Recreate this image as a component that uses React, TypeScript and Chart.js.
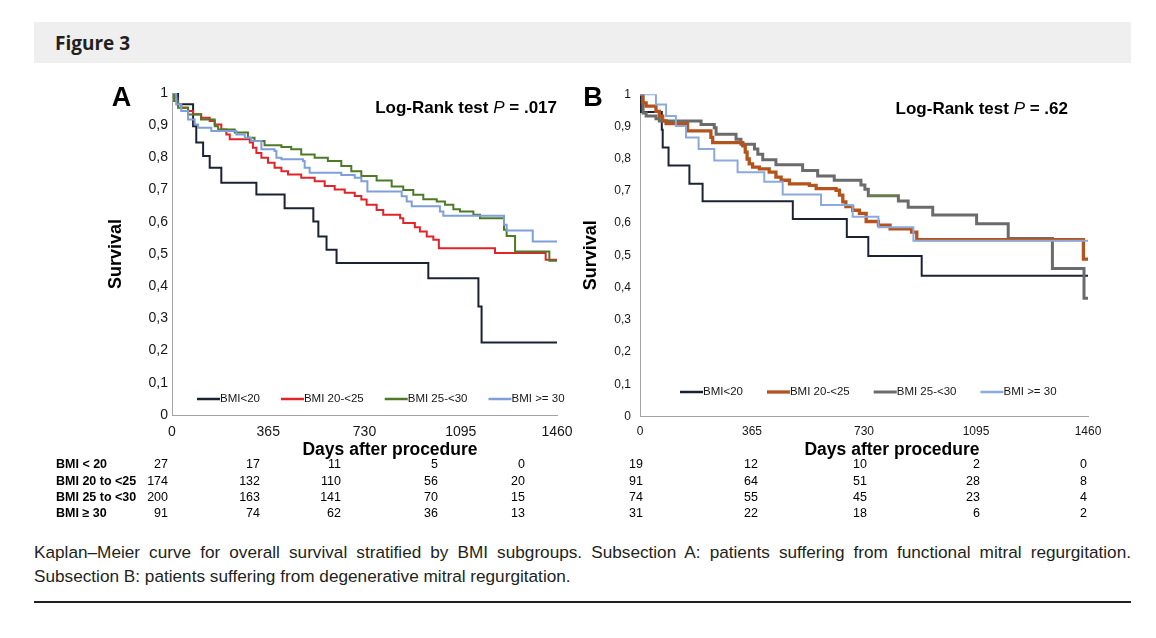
import React, { useEffect, useRef } from 'react';
import { Chart, registerables } from 'chart.js';

Chart.register(...registerables);

type Pt = [number, number];

// ---------------- Data ----------------
const DAY_TICKS = [0, 365, 730, 1095, 1460];
const SURVIVAL_TICKS = [0, 0.1, 0.2, 0.3, 0.4, 0.5, 0.6, 0.7, 0.8, 0.9, 1];
const SURVIVAL_TICK_LABELS = ['0', '0,1', '0,2', '0,3', '0,4', '0,5', '0,6', '0,7', '0,8', '0,9', '1'];
const SERIES_NAMES = ['BMI<20', 'BMI 20-<25', 'BMI 25-<30', 'BMI >= 30'];
const RISK_GROUPS = ['BMI < 20', 'BMI 20 to <25', 'BMI 25 to <30', 'BMI \u2265 30'];

// Panel A (functional MR) – Kaplan–Meier steps [day, survival]
const A_BMI_LT20: Pt[] = [
  [0, 1], [23, 0.965], [80, 0.897], [92, 0.846], [118, 0.804], [143, 0.768], [187, 0.721],
  [320, 0.685], [427, 0.642], [536, 0.601], [555, 0.554], [586, 0.513], [624, 0.472],
  [972, 0.425], [1162, 0.337], [1174, 0.225], [1460, 0.225],
];
const A_BMI_20_25: Pt[] = [
  [0, 1], [10, 0.985], [20, 0.965], [35, 0.954], [61, 0.944], [80, 0.934], [111, 0.923],
  [143, 0.913], [162, 0.902], [187, 0.887], [206, 0.871], [219, 0.856], [295, 0.846],
  [307, 0.83], [320, 0.814], [339, 0.799], [364, 0.783], [389, 0.768], [415, 0.757],
  [440, 0.747], [490, 0.737], [541, 0.726], [579, 0.711], [617, 0.7], [655, 0.69],
  [693, 0.68], [718, 0.669], [738, 0.653], [776, 0.637], [801, 0.622], [865, 0.611],
  [877, 0.596], [921, 0.583], [940, 0.57], [966, 0.554], [991, 0.544], [1012, 0.518],
  [1225, 0.503], [1417, 0.482], [1460, 0.482],
];
const A_BMI_25_30: Pt[] = [
  [0, 1], [8, 0.975], [23, 0.954], [61, 0.933], [110, 0.918], [162, 0.897], [175, 0.887],
  [238, 0.877], [288, 0.861], [313, 0.851], [351, 0.838], [415, 0.832], [452, 0.825],
  [490, 0.809], [541, 0.799], [591, 0.789], [642, 0.773], [680, 0.757], [718, 0.742],
  [776, 0.728], [833, 0.71], [877, 0.699], [915, 0.684], [953, 0.67], [1004, 0.663],
  [1035, 0.653], [1067, 0.639], [1092, 0.632], [1143, 0.622], [1168, 0.611], [1259, 0.575],
  [1269, 0.556], [1301, 0.508], [1431, 0.479], [1460, 0.479],
];
const A_BMI_GE30: Pt[] = [
  [0, 1], [16, 0.965], [35, 0.944], [61, 0.918], [86, 0.902], [99, 0.892], [149, 0.882],
  [244, 0.871], [276, 0.861], [301, 0.851], [339, 0.825], [389, 0.82], [396, 0.799],
  [415, 0.794], [497, 0.789], [503, 0.768], [522, 0.752], [642, 0.745], [693, 0.737],
  [718, 0.726], [741, 0.694], [871, 0.679], [890, 0.663], [909, 0.648], [1016, 0.632],
  [1029, 0.619], [1259, 0.591], [1269, 0.573], [1368, 0.539], [1460, 0.539],
];

// Panel B (degenerative MR)
const B_BMI_LT20: Pt[] = [
  [0, 1], [3, 0.945], [71, 0.89], [74, 0.835], [93, 0.779], [161, 0.722], [204, 0.668],
  [498, 0.613], [674, 0.557], [744, 0.498], [918, 0.437], [1460, 0.437],
];
const B_BMI_20_25: Pt[] = [
  [0, 1], [9, 0.973], [20, 0.963], [52, 0.947], [63, 0.932], [74, 0.917], [85, 0.909],
  [155, 0.886], [231, 0.866], [237, 0.85], [335, 0.84], [343, 0.82], [349, 0.799],
  [356, 0.784], [367, 0.774], [389, 0.768], [421, 0.758], [443, 0.743], [460, 0.733],
  [487, 0.722], [552, 0.717], [574, 0.707], [639, 0.702], [650, 0.687], [661, 0.666],
  [671, 0.651], [693, 0.64], [715, 0.63], [737, 0.605], [777, 0.594], [815, 0.582],
  [885, 0.572], [902, 0.549], [1445, 0.488], [1460, 0.488],
];
const B_BMI_25_30: Pt[] = [
  [0, 1], [10, 0.942], [20, 0.932], [52, 0.924], [63, 0.917], [199, 0.906], [242, 0.896],
  [248, 0.876], [313, 0.86], [329, 0.845], [373, 0.83], [384, 0.814], [400, 0.797],
  [443, 0.781], [530, 0.763], [579, 0.746], [633, 0.733], [720, 0.718], [733, 0.705],
  [744, 0.685], [842, 0.669], [874, 0.649], [954, 0.625], [1097, 0.598], [1200, 0.552],
  [1344, 0.459], [1447, 0.367], [1460, 0.367],
];
const B_BMI_25_30_GREEN_SEGMENT: Pt[] = [[744, 0.685], [838, 0.685]];
const B_BMI_GE30: Pt[] = [
  [0, 1], [52, 0.968], [85, 0.932], [117, 0.901], [150, 0.866], [191, 0.83], [242, 0.794],
  [318, 0.758], [405, 0.728], [465, 0.689], [590, 0.656], [693, 0.62], [777, 0.587],
  [891, 0.545], [1460, 0.545],
];

// Numbers at risk (columns = DAY_TICKS)
const A_RISK_LT20 = [27, 17, 11, 5, 0];
const A_RISK_20_25 = [174, 132, 110, 56, 20];
const A_RISK_25_30 = [200, 163, 141, 70, 15];
const A_RISK_GE30 = [91, 74, 62, 36, 13];
const B_RISK_LT20 = [19, 12, 10, 2, 0];
const B_RISK_20_25 = [91, 64, 51, 28, 8];
const B_RISK_25_30 = [74, 55, 45, 23, 4];
const B_RISK_GE30 = [31, 22, 18, 6, 2];

const P_VALUE_A = '.017';
const P_VALUE_B = '.62';

// ---------------- Rendering ----------------
const FONT = "'Liberation Sans', Arial, Helvetica, sans-serif";
const AXIS_COLOR = '#a3a3a3';
const TEXT = '#161616';

interface Series { label: string; data: Pt[]; color: string; width: number; order: number; }
interface Geom {
  left: number; top: number; width: number; height: number;
  padTop: number; padRight: number; yAxisW: number; xAxisH: number;
  tickSize: number; yTickPad: number; xTickPad: number; yTitlePad: number;
  legendX: number; legendY: number; legendGap: number; legendLine: number; legendSize: number;
}

function KMChart({ series, g }: { series: Series[]; g: Geom }) {
  const ref = useRef<HTMLCanvasElement | null>(null);
  useEffect(() => {
    if (!ref.current) return;
    const legendPlugin = {
      id: 'insideLegend',
      afterDatasetsDraw(chart: any) {
        const { ctx, chartArea } = chart;
        ctx.save();
        ctx.font = `${g.legendSize}px ${FONT}`;
        ctx.textBaseline = 'middle';
        ctx.textAlign = 'left';
        let x = chartArea.left + g.legendX;
        const y = chartArea.bottom - g.legendY;
        chart.data.datasets.forEach((ds: any) => {
          if (!ds.label || String(ds.label).startsWith('_')) return;
          ctx.strokeStyle = ds.borderColor;
          ctx.lineWidth = Math.max(2.5, ds.borderWidth);
          ctx.beginPath();
          ctx.moveTo(x, y);
          ctx.lineTo(x + g.legendLine, y);
          ctx.stroke();
          x += g.legendLine;
          ctx.fillStyle = TEXT;
          ctx.fillText(ds.label, x, y);
          x += ctx.measureText(ds.label).width + g.legendGap;
        });
        ctx.restore();
      },
    };
    const chart = new Chart(ref.current, {
      type: 'line',
      data: {
        datasets: series.map((s) => ({
          label: s.label,
          data: s.data.map(([x, y]) => ({ x, y })),
          borderColor: s.color,
          backgroundColor: s.color,
          borderWidth: s.width,
          stepped: true,
          pointRadius: 0,
          pointHoverRadius: 0,
          fill: false,
          order: s.order,
        })),
      },
      options: {
        responsive: false,
        animation: false,
        events: [],
        layout: { padding: { top: g.padTop, right: g.padRight, left: 0, bottom: 0 } },
        plugins: { legend: { display: false }, tooltip: { enabled: false } },
        scales: {
          x: {
            type: 'linear',
            min: 0,
            max: 1460,
            afterBuildTicks: (s: any) => { s.ticks = DAY_TICKS.map((v) => ({ value: v })); },
            afterFit: (s: any) => { s.height = g.xAxisH; },
            grid: { display: false, drawTicks: false },
            border: { display: true, color: AXIS_COLOR, width: 1 },
            ticks: {
              font: { family: FONT, size: g.tickSize },
              color: TEXT,
              padding: g.xTickPad,
              maxRotation: 0,
              minRotation: 0,
              autoSkip: false,
              callback: (v: any) => String(v),
            },
          },
          y: {
            type: 'linear',
            min: 0,
            max: 1,
            afterBuildTicks: (s: any) => { s.ticks = SURVIVAL_TICKS.map((v) => ({ value: v })); },
            afterFit: (s: any) => { s.width = g.yAxisW; },
            grid: { display: false, drawTicks: false },
            border: { display: true, color: AXIS_COLOR, width: 1 },
            ticks: {
              font: { family: FONT, size: g.tickSize },
              color: TEXT,
              padding: g.yTickPad,
              autoSkip: false,
              callback: (v: any) => SURVIVAL_TICK_LABELS[Math.round(Number(v) * 10)] ?? '',
            },
            title: {
              display: true,
              text: 'Survival',
              color: '#000',
              font: { family: FONT, size: 18, weight: 'bold' },
              padding: { top: g.yTitlePad, bottom: 0 },
            },
          },
        },
      } as any,
      plugins: [legendPlugin],
    });
    return () => chart.destroy();
  }, []);
  return (
    <canvas
      ref={ref}
      width={g.width}
      height={g.height}
      style={{ position: 'absolute', left: g.left, top: g.top, width: g.width, height: g.height }}
    />
  );
}

function T({ x, y, anchor = 'left', style, children }: any) {
  const tx = anchor === 'left' ? '0' : anchor === 'right' ? '-100%' : '-50%';
  return (
    <div
      style={{
        position: 'absolute', left: x, top: y, transform: `translate(${tx}, -50%)`,
        whiteSpace: 'nowrap', lineHeight: 1, fontFamily: FONT, color: TEXT, ...style,
      }}
    >
      {children}
    </div>
  );
}

const GEOM_A: Geom = {
  left: 100, top: 80, width: 490, height: 390, padTop: 13, padRight: 33, yAxisW: 72, xAxisH: 55,
  tickSize: 14, yTickPad: 4, xTickPad: 8.6, yTitlePad: 5.2,
  legendX: 25, legendY: 16, legendGap: 21, legendLine: 23, legendSize: 11.5,
};
const GEOM_B: Geom = {
  left: 570, top: 78, width: 540, height: 392, padTop: 12.5, padRight: 22, yAxisW: 70, xAxisH: 53.5,
  tickSize: 12, yTickPad: 9, xTickPad: 8.3, yTitlePad: 10.2,
  legendX: 40, legendY: 24.5, legendGap: 24, legendLine: 23, legendSize: 11.5,
};

const SERIES_A: Series[] = [
  { label: SERIES_NAMES[0], data: A_BMI_LT20, color: '#1b2233', width: 2, order: 3 },
  { label: SERIES_NAMES[1], data: A_BMI_20_25, color: '#e2232a', width: 2, order: 2 },
  { label: SERIES_NAMES[2], data: A_BMI_25_30, color: '#4e7a27', width: 2, order: 1 },
  { label: SERIES_NAMES[3], data: A_BMI_GE30, color: '#7f9fd9', width: 2, order: 0 },
];
const SERIES_B: Series[] = [
  { label: SERIES_NAMES[0], data: B_BMI_LT20, color: '#1b2233', width: 2, order: 3 },
  { label: SERIES_NAMES[1], data: B_BMI_20_25, color: '#b4531c', width: 3.3, order: 1 },
  { label: SERIES_NAMES[2], data: B_BMI_25_30, color: '#6b6b6b', width: 3, order: 2 },
  { label: SERIES_NAMES[3], data: B_BMI_GE30, color: '#8aa9dd', width: 2, order: 0 },
  { label: '_segment', data: B_BMI_25_30_GREEN_SEGMENT, color: '#5d8a31', width: 1.5, order: -1 },
];

const RISK_A = [A_RISK_LT20, A_RISK_20_25, A_RISK_25_30, A_RISK_GE30];
const RISK_B = [B_RISK_LT20, B_RISK_20_25, B_RISK_25_30, B_RISK_GE30];
const RISK_ROW_Y = [464, 480.5, 496.5, 512.5];
const RISK_COL_A = [168, 260, 341, 438, 525];
const RISK_COL_B = [643, 758, 867, 980, 1087];

export default function App() {
  const bold = { fontWeight: 'bold' as const };
  return (
    <div style={{ position: 'absolute', left: 0, top: 0, width: 1156, height: 638, background: '#fff', overflow: 'hidden' }}>
      {/* header */}
      <div style={{ position: 'absolute', left: 34, top: 22, width: 1097, height: 41, background: '#efefef' }} />
      <T x={55} y={43} style={{ fontFamily: "'Open Sans', Lato, sans-serif", fontWeight: 700, fontSize: 19, color: '#231f20' }}>
        Figure 3
      </T>

      <KMChart series={SERIES_A} g={GEOM_A} />
      <KMChart series={SERIES_B} g={GEOM_B} />

      {/* panel letters and tests */}
      <T x={121.5} y={97} anchor="center" style={{ ...bold, fontSize: 27, color: '#000' }}>A</T>
      <T x={593} y={97} anchor="center" style={{ ...bold, fontSize: 27, color: '#000' }}>B</T>
      <T x={557} y={107} anchor="right" style={{ ...bold, fontSize: 17, color: '#000' }}>
        Log-Rank test <span style={{ fontStyle: 'italic', fontWeight: 'normal' }}>P</span> = {P_VALUE_A}
      </T>
      <T x={1068} y={108} anchor="right" style={{ ...bold, fontSize: 17, color: '#000' }}>
        Log-Rank test <span style={{ fontStyle: 'italic', fontWeight: 'normal' }}>P</span> = {P_VALUE_B}
      </T>
      <T x={390} y={450} anchor="center" style={{ ...bold, fontSize: 17.5, color: '#000' }}>Days after procedure</T>
      <T x={892} y={450} anchor="center" style={{ ...bold, fontSize: 17.5, color: '#000' }}>Days after procedure</T>

      {/* numbers at risk */}
      {RISK_GROUPS.map((name, r) => (
        <T key={'l' + r} x={56} y={RISK_ROW_Y[r]} style={{ ...bold, fontSize: 12.5, color: '#000' }}>{name}</T>
      ))}
      {RISK_A.map((row, r) => row.map((v, c) => (
        <T key={`a${r}-${c}`} x={RISK_COL_A[c]} y={RISK_ROW_Y[r]} anchor="right" style={{ fontSize: 12.5, color: '#000' }}>{v}</T>
      )))}
      {RISK_B.map((row, r) => row.map((v, c) => (
        <T key={`b${r}-${c}`} x={RISK_COL_B[c]} y={RISK_ROW_Y[r]} anchor="right" style={{ fontSize: 12.5, color: '#000' }}>{v}</T>
      )))}

      {/* caption */}
      <div style={{
        position: 'absolute', left: 34, top: 553, width: 1097, transform: 'translateY(-50%)',
        fontFamily: FONT, fontSize: 17.2, lineHeight: 1, color: '#231f20',
        textAlign: 'justify', textAlignLast: 'justify' as any, whiteSpace: 'nowrap',
      }}>
        Kaplan–Meier curve for overall survival stratified by BMI subgroups. Subsection A: patients suffering from functional mitral regurgitation.
      </div>
      <div style={{
        position: 'absolute', left: 34, top: 577, transform: 'translateY(-50%)',
        fontFamily: FONT, fontSize: 17.2, lineHeight: 1, color: '#231f20', whiteSpace: 'nowrap',
      }}>
        Subsection B: patients suffering from degenerative mitral regurgitation.
      </div>
      <div style={{ position: 'absolute', left: 34, top: 601, width: 1097, height: 2, background: '#231f20' }} />
    </div>
  );
}
